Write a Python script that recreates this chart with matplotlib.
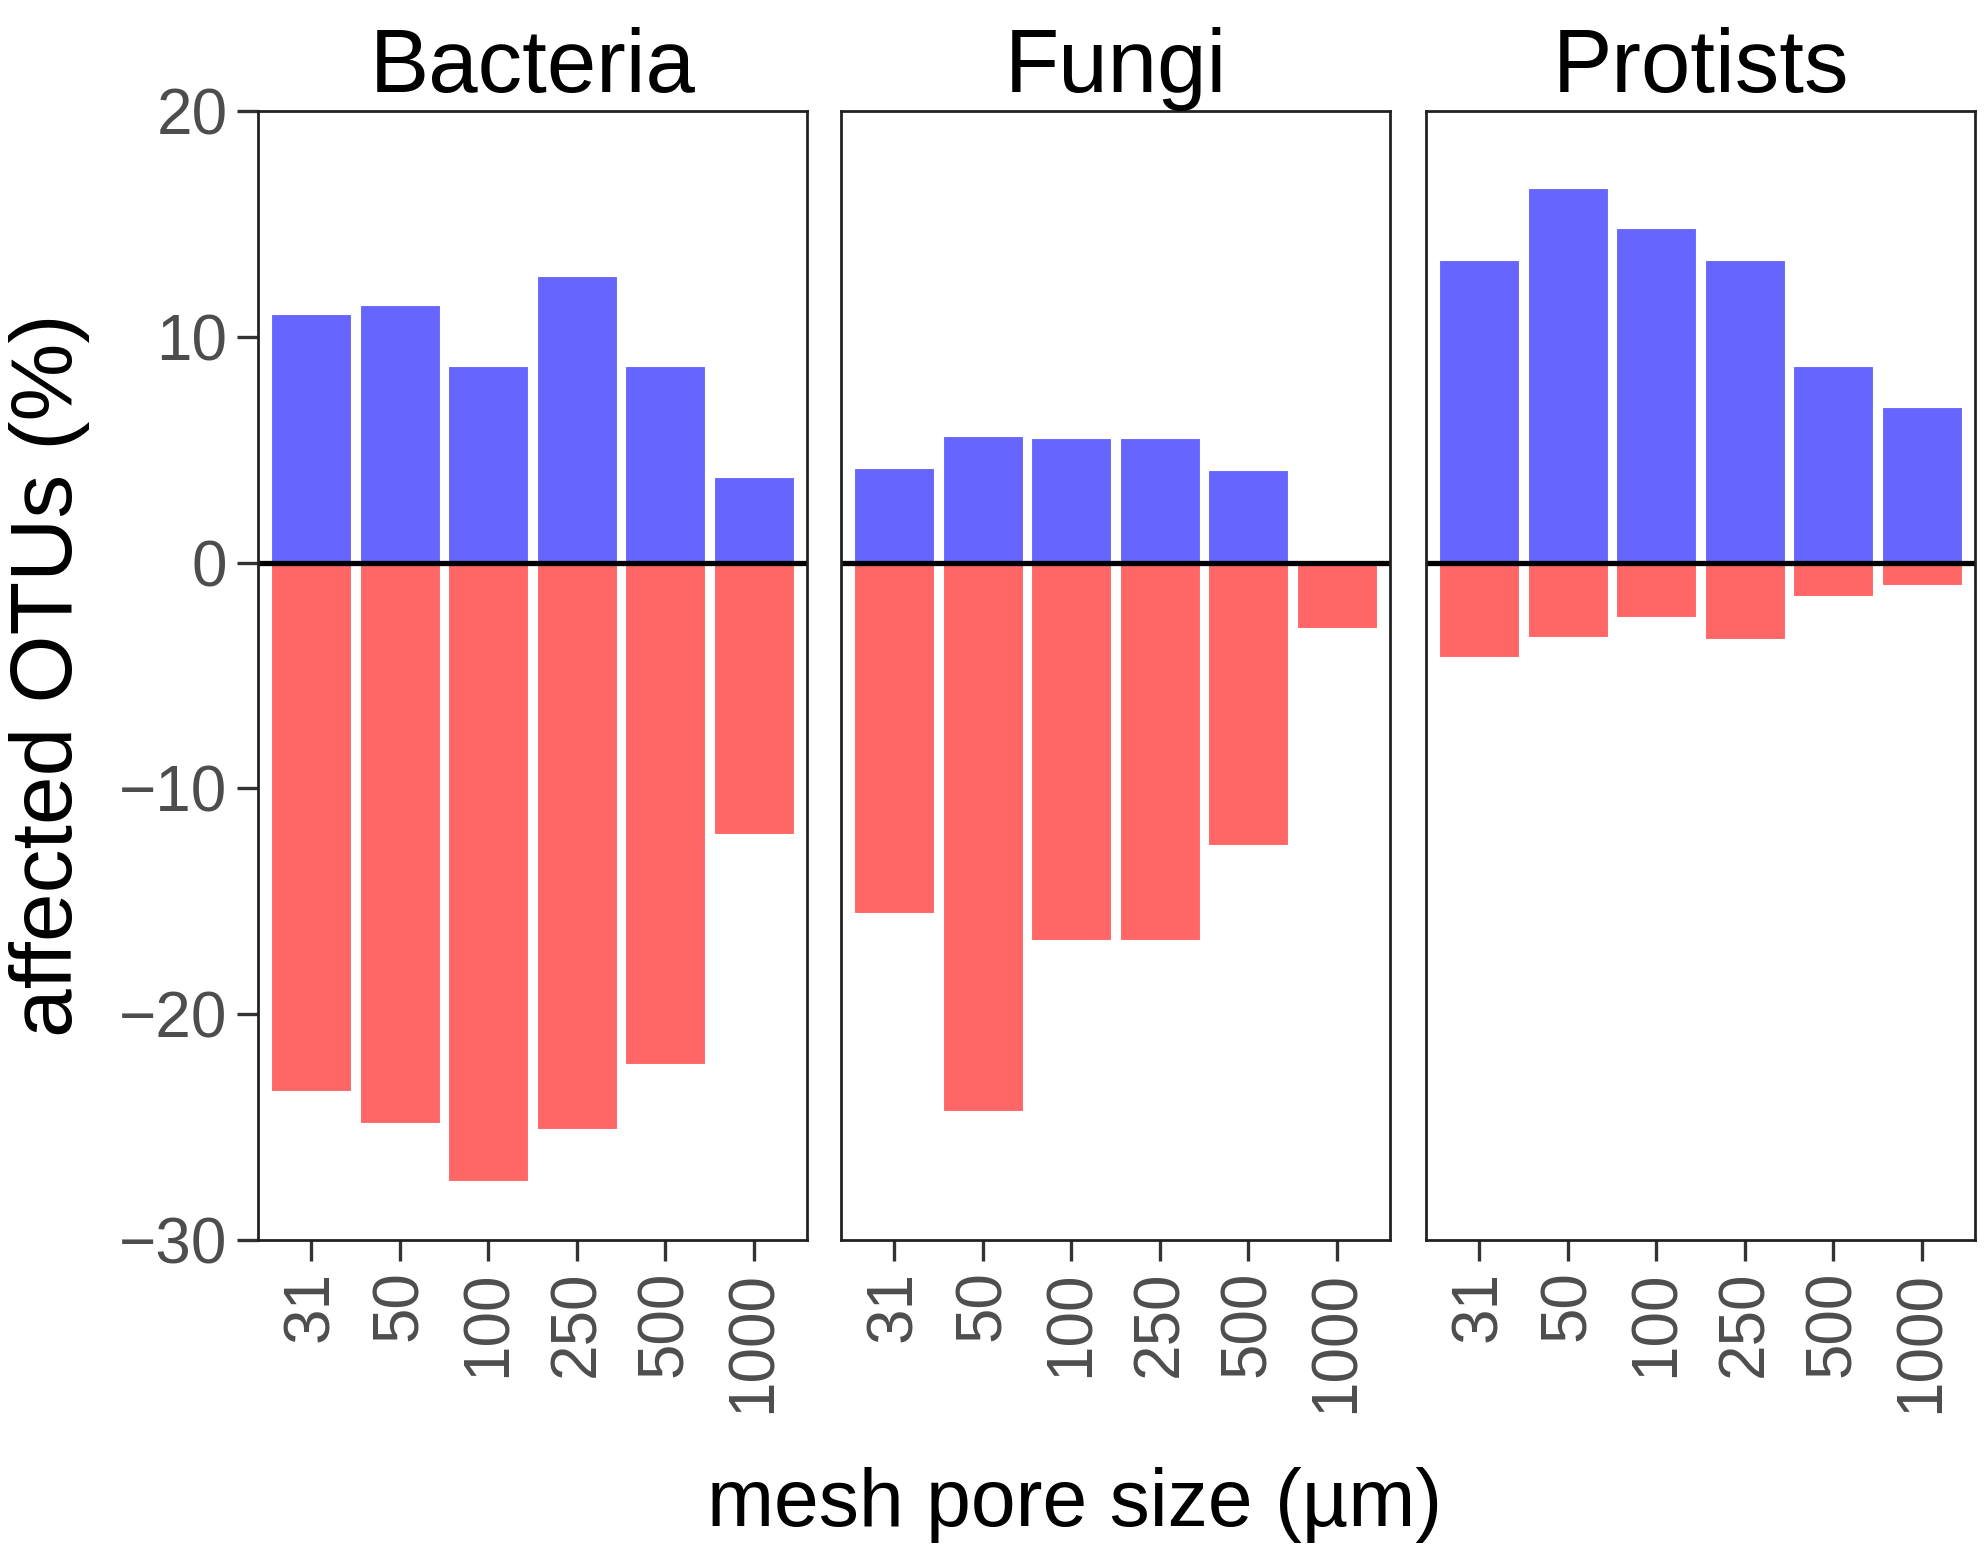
import numpy as np
import matplotlib.pyplot as plt

plt.rcParams['font.family'] = ['Liberation Sans', 'DejaVu Sans']

groups = ['Bacteria', 'Fungi', 'Protists']
pore_sizes = ['31', '50', '100', '250', '500', '1000']

# percent of OTUs increased (blue) / decreased (red)
up = {
    'Bacteria': [11.0, 11.4, 8.7, 12.7, 8.7, 3.8],
    'Fungi': [4.2, 5.6, 5.5, 5.5, 4.1, 0.0],
    'Protists': [13.4, 16.6, 14.8, 13.4, 8.7, 6.9],
}
down = {
    'Bacteria': [-23.4, -24.8, -27.4, -25.1, -22.2, -12.0],
    'Fungi': [-15.5, -24.3, -16.7, -16.7, -12.5, -2.9],
    'Protists': [-4.2, -3.3, -2.4, -3.4, -1.5, -1.0],
}

blue = '#6666FF'
red = '#FF6666'
grey = '#4D4D4D'

fig = plt.figure(figsize=(19.84, 15.55), dpi=100)
W, H = 1984, 1555
lefts = [258, 841, 1426]
pw = 549
top, bottom = 111, 1240

x = np.arange(1, len(pore_sizes) + 1)
for i, g in enumerate(groups):
    ax = fig.add_axes([lefts[i] / W, 1 - bottom / H, pw / W, (bottom - top) / H])
    ax.bar(x, up[g], width=0.9, color=blue, edgecolor='white', linewidth=0.8)
    ax.bar(x, down[g], width=0.9, color=red, edgecolor='white', linewidth=0.8)
    ax.axhline(0, color='black', linewidth=3.8)
    ax.set_xlim(0.4, 6.6)
    ax.set_ylim(-30, 20)
    ax.set_xticks(x)
    ax.set_xticklabels(pore_sizes, rotation=90, fontsize=46, color=grey)
    ax.set_yticks([-30, -20, -10, 0, 10, 20])
    ax.set_yticklabels(['\u221230', '\u221220', '\u221210', '0', '10', '20'],
                       fontsize=46, color=grey)
    ax.tick_params(length=15, width=2.4, color='#333333', pad=7)
    if i > 0:
        ax.tick_params(axis='y', left=False, labelleft=False)
    for s in ax.spines.values():
        s.set_linewidth(2.0)
        s.set_color('#222222')
    ax.set_title(g, fontsize=64, pad=14)

fig.text(50 / W, 1 - 675 / H, 'affected OTUs (%)', fontsize=63, rotation=90,
         ha='center', va='center')
fig.text(1075 / W, 1 - 1505 / H, 'mesh pore size (\u00b5m)',
         fontsize=58, ha='center', va='center')

fig.savefig('out.png', dpi=100)
